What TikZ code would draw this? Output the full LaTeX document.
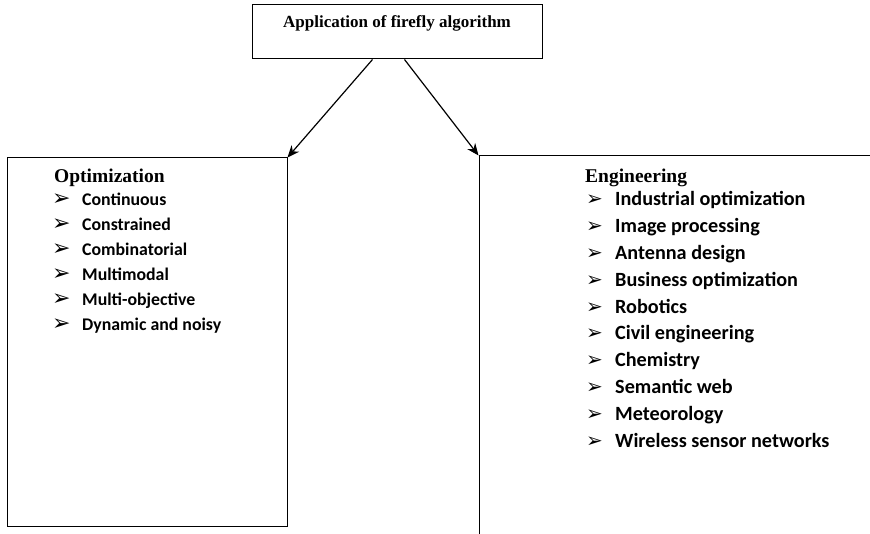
\documentclass[tikz,border=0pt]{standalone}
\usepackage{fontspec}
\setmainfont{Liberation Serif}
\newfontfamily\itemfont{Carlito}
\newfontfamily\symfont{DejaVu Sans}
\usetikzlibrary{arrows.meta}
\tikzset{
  boxnode/.style={draw=black, line width=1pt, inner sep=0pt, fill=none},
  arr/.style={line width=1.2pt, -{Stealth[length=12pt,width=10pt]}},
  ttl/.style={anchor=base west, inner sep=0pt, font=\bfseries\fontsize{19.5}{22}\selectfont},
  itemL/.style={anchor=base west, inner sep=0pt, font=\itemfont\bfseries\fontsize{17.8}{20}\selectfont},
  itemR/.style={anchor=base west, inner sep=0pt, font=\itemfont\bfseries\fontsize{20.2}{22}\selectfont},
  bulL/.style={anchor=base west, inner sep=0pt, font=\symfont\fontsize{22}{24}\selectfont},
  bulR/.style={anchor=base west, inner sep=0pt, font=\symfont\fontsize{20}{24}\selectfont},
}
\begin{document}
\begin{tikzpicture}[x=1pt,y=-1pt]
\clip (0,0) rectangle (870,534);
\fill[white] (0,0) rectangle (870,534);
% top box
\node[boxnode, minimum width=290pt, minimum height=54pt] (top) at (397,32) {};
\node[anchor=base, inner sep=0pt, font=\bfseries\fontsize{17}{19}\selectfont] (toptext) at (397,28) {Application of firefly algorithm};
% left box
\node[boxnode, minimum width=280pt, minimum height=368pt] (left) at (147,342) {};
% right box (extends past the page)
\node[boxnode, minimum width=440pt, minimum height=440pt] (right) at (699,376) {};
% arrows
\draw[arr] ([xshift=121pt]top.south west) -- (left.north east);
\draw[arr] ([xshift=153pt]top.south west) -- (right.north west);
% left list
\node[ttl] (opttitle) at (54,183) {Optimization};
\foreach \t [count=\i] in {Continuous, Constrained, Combinatorial, Multimodal, Multi-objective, Dynamic and noisy} {
  \node[bulL] (optb\i) at (52,{206+24.9*(\i-1)}) {➢};
  \node[itemL] (opt\i) at (82,{206+24.9*(\i-1)}) {\t};
}
% right list
\node[ttl] (engtitle) at (585,183) {Engineering};
\foreach \t [count=\i] in {Industrial optimization, Image processing, Antenna design, Business optimization, Robotics, Civil engineering, Chemistry, Semantic web, Meteorology, Wireless sensor networks} {
  \node[bulR] (engb\i) at (586,{206+26.8*(\i-1)}) {➢};
  \node[itemR] (eng\i) at (615,{206+26.8*(\i-1)}) {\t};
}
\end{tikzpicture}
\end{document}
